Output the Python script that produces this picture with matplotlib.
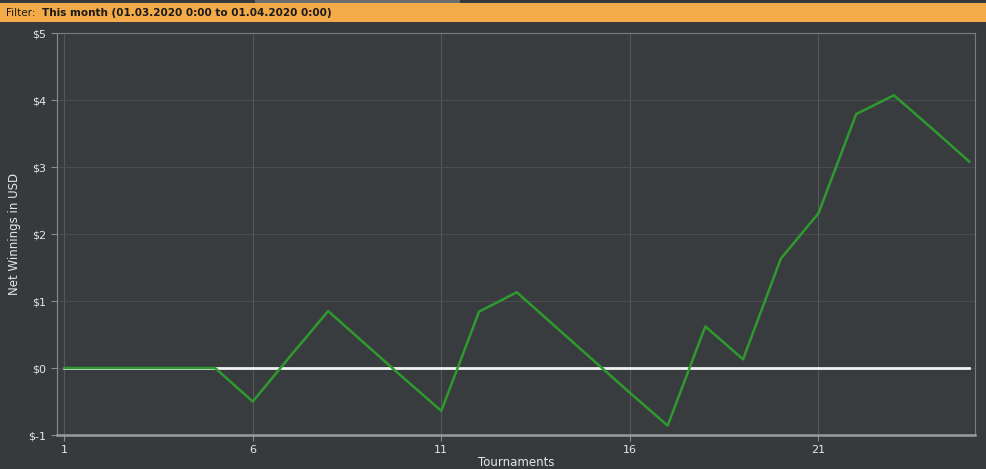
import matplotlib.pyplot as plt
from matplotlib.patches import Rectangle

# cumulative net winnings per tournament
tournaments = list(range(1, 26))
net_winnings = [0, 0, 0, 0, 0, -0.5, 0.18, 0.85, 0.35, -0.15, -0.64, 0.84, 1.13,
                0.63, 0.13, -0.37, -0.86, 0.62, 0.13, 1.63, 2.31, 3.79, 4.07, 3.58, 3.08]
x_ticks = [1, 6, 11, 16, 21]
y_ticks = [-1, 0, 1, 2, 3, 4, 5]
y_labels = ['$-1', '$0', '$1', '$2', '$3', '$4', '$5']

bg = '#373a3d'
fig = plt.figure(figsize=(9.86, 4.69), dpi=100, facecolor=bg)
ax = fig.add_axes([57 / 986, 34 / 469, 918 / 986, 402 / 469], facecolor='#393c3f')

# header bar
fig.patches.append(Rectangle((0, 1 - 22 / 469), 1, 19 / 469, transform=fig.transFigure,
                             facecolor='#f2ab48', edgecolor='none', zorder=0))
fig.patches.append(Rectangle((255 / 986, 1 - 3 / 469), 205 / 986, 3 / 469, transform=fig.transFigure,
                             facecolor='#6a6c6e', edgecolor='none', zorder=0))
fig.text(6 / 986, 1 - 12.5 / 469, 'Filter: ', fontsize=7.5, color='#1a1a1a', va='center')
fig.text(42 / 986, 1 - 12.5 / 469, 'This month (01.03.2020 0:00 to 01.04.2020 0:00)',
         fontsize=7.5, color='#1a1a1a', va='center', fontweight='bold')

ax.plot([tournaments[0], tournaments[-1]], [0, 0], color='#f2f2f2', lw=2, zorder=2)
ax.plot(tournaments, net_winnings, color='#2e9a2e', lw=1.8, zorder=3)

ax.set_xlim(0.81, 25.15)
ax.set_ylim(-1, 5)
ax.set_xticks(x_ticks)
ax.set_yticks(y_ticks)
ax.set_yticklabels(y_labels)
ax.tick_params(colors='#8a8c8e', labelcolor='#e6e6e6', labelsize=8, length=4)
ax.grid(axis='x', color='#55585b', lw=0.8)
ax.grid(axis='y', color='#4a4d50', lw=0.8)
ax.set_axisbelow(True)

for side in ['top', 'right']:
    ax.spines[side].set_color('#7a7c7e')
    ax.spines[side].set_linewidth(0.8)
ax.spines['left'].set_color('#8a8c8e')
ax.spines['bottom'].set_color('#9a9c9e')
ax.spines['bottom'].set_linewidth(1.8)

ax.set_xlabel('Tournaments', color='#e6e6e6', fontsize=8.5, va='center')
ax.xaxis.set_label_coords((516 - 57) / 918, -(462 - 435) / 402)
ax.set_ylabel('Net Winnings in USD', color='#e6e6e6', fontsize=8.5, va='center')
ax.yaxis.set_label_coords(-(57 - 15) / 918, 0.5)

fig.savefig('out.png', dpi=100, facecolor=bg)
